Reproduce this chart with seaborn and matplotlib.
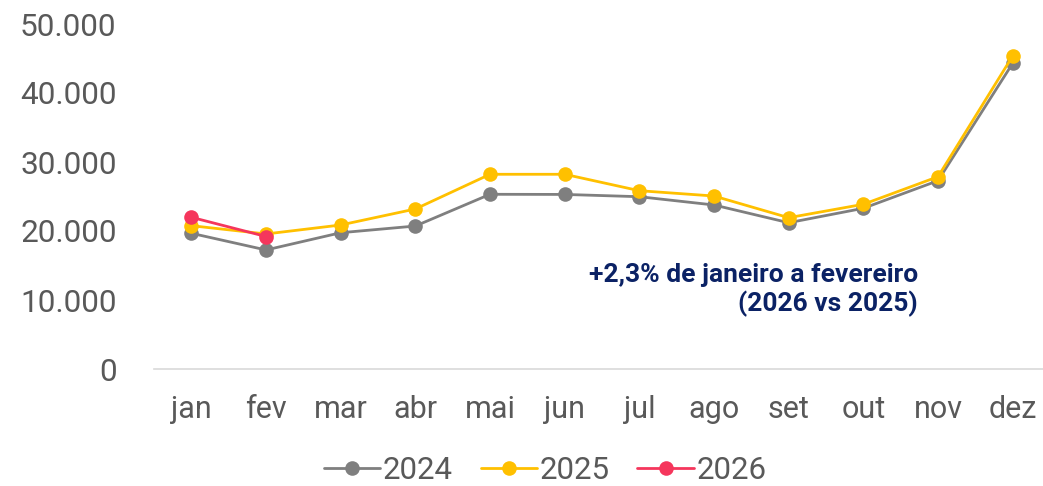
import matplotlib
matplotlib.use("Agg")
import matplotlib.pyplot as plt
import seaborn as sns
import pandas as pd
from matplotlib.ticker import FuncFormatter

months = ["jan", "fev", "mar", "abr", "mai", "jun", "jul", "ago", "set", "out", "nov", "dez"]
v2024 = [19670, 17250, 19750, 20720, 25320, 25300, 24970, 23770, 21200, 23290, 27290, 44300]
v2025 = [20770, 19570, 20870, 23190, 28220, 28220, 25840, 25070, 21930, 23870, 27870, 45360]
v2026 = [21990, 19200]
years = ["2024", "2025", "2026"]
colors = {"2024": "#7F7F7F", "2025": "#FFC000", "2026": "#F5365C"}
widths = {"2024": 3.0, "2025": 2.0, "2026": 2.4}
note = "+2,3% de janeiro a fevereiro\n(2026 vs 2025)"

sns.set_theme(style="white")
plt.rcParams["font.family"] = ["Roboto", "DejaVu Sans"]

fig = plt.figure(figsize=(10.43, 4.86), dpi=100)
ax = fig.add_axes([154/1043, (486-369)/486, (1050-154)/1043, (369-24)/486])

series = {"2024": v2024, "2025": v2025, "2026": v2026}
for i, y in enumerate(years):
    vals = series[y]
    df = pd.DataFrame({"x": list(range(len(vals))), "v": vals})
    sns.lineplot(data=df, x="x", y="v", ax=ax, color=colors[y], lw=widths[y],
                 marker="o", markersize=10.5, markeredgewidth=0, zorder=3 + i,
                 label=y)

ax.set_xlim(-0.5, 11.5)
ax.set_ylim(0, 50000)
ax.set_yticks(range(0, 50001, 10000))
ax.yaxis.set_major_formatter(FuncFormatter(lambda v, p: f"{int(v):,}".replace(",", ".")))
ax.set_xticks(range(12))
ax.set_xticklabels(months)
ax.set_xlabel("")
ax.set_ylabel("")
for s in ["top", "right", "left"]:
    ax.spines[s].set_visible(False)
ax.spines["bottom"].set_color("#D9D9D9")
ax.spines["bottom"].set_linewidth(1.2)
ax.tick_params(axis="y", labelsize=22.7, labelcolor="#595959", length=0, pad=27)
ax.tick_params(axis="x", labelsize=22, labelcolor="#595959", length=0, pad=19)

ax.text(918/1043, (486-263)/486, note, transform=fig.transFigure, ha="right", va="top",
        fontsize=19, fontweight="bold", color="#0B2265", linespacing=1.2)

handles, labels = ax.get_legend_handles_labels()
for h in handles:
    h.set_linewidth(2.0)
ax.legend(handles, labels, loc="center", bbox_to_anchor=(545/1043, 16/486),
          bbox_transform=fig.transFigure, ncol=3, frameon=False, fontsize=22.5,
          labelcolor="#595959", handlelength=1.8, handletextpad=0.08,
          columnspacing=0.9, borderpad=0.1)

fig.savefig("out.png", dpi=100)
